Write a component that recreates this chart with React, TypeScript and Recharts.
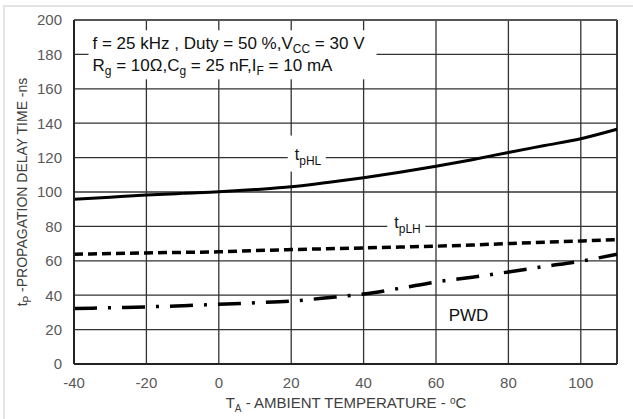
import React from 'react'
import {
  LineChart,
  Line,
  XAxis,
  YAxis,
  CartesianGrid,
  ReferenceLine,
  ReferenceDot,
} from 'recharts'

// ambient temperature, degC
const temps = [-40, -30, -20, -10, 0, 10, 20, 30, 40, 50, 60, 70, 80, 90, 100, 110]
// propagation delay, ns
const tpHL = [95.8, 97, 98.2, 99.2, 100.1, 101.4, 103, 105.5, 108.3, 111.5, 115, 118.8, 123, 127, 131, 136.5]
const tpLH = [63.8, 64.2, 64.6, 64.9, 65.2, 65.9, 66.5, 67, 67.5, 68, 68.5, 69.2, 70, 70.8, 71.5, 72.3]
const pwd = [32.2, 32.7, 33.2, 33.9, 34.7, 35.6, 36.6, 38.5, 40.7, 44, 47.7, 50.5, 53.5, 56.7, 59.8, 63.8]

const xTicks = [-40, -20, 0, 20, 40, 60, 80, 100]
const yTicks = [0, 20, 40, 60, 80, 100, 120, 140, 160, 180, 200]

const data = temps.map((t, i) => ({ t, tpHL: tpHL[i], tpLH: tpLH[i], pwd: pwd[i] }))

const FONT = 'Arial, "Liberation Sans", sans-serif'
const GRID = '#333'

type DotProps = { cx?: number; cy?: number }

function Conditions({ cx = 0, cy = 0 }: DotProps) {
  return (
    <g fontFamily={FONT} fill="#111" fontSize={17}>
      <rect x={cx} y={cy} width={288} height={49} fill="#fff" />
      <text x={cx + 4} y={cy + 19}>
        f = 25 kHz , Duty = 50 %,V
        <tspan dy={4} fontSize={12}>CC</tspan>
        <tspan dy={-4}> = 30 V</tspan>
      </text>
      <text x={cx + 4} y={cy + 41}>
        R<tspan dy={4} fontSize={12}>g</tspan>
        <tspan dy={-4}> = 10Ω,C</tspan>
        <tspan dy={4} fontSize={12}>g</tspan>
        <tspan dy={-4}> = 25 nF,I</tspan>
        <tspan dy={4} fontSize={12}>F</tspan>
        <tspan dy={-4}> = 10 mA</tspan>
      </text>
    </g>
  )
}

function SeriesTag({ cx = 0, cy = 0, sub, top }: DotProps & { sub: string; top: number }) {
  return (
    <g fontFamily={FONT} fill="#111">
      <rect x={cx - 19} y={cy - top} width={38} height={top + 14} fill="#fff" />
      <text x={cx - 12} y={cy + 2} fontSize={16}>
        t<tspan dy={5} fontSize={12}>{sub}</tspan>
      </text>
    </g>
  )
}

function PwdTag({ cx = 0, cy = 0 }: DotProps) {
  return (
    <text x={cx} y={cy} textAnchor="middle" fontFamily={FONT} fontSize={17} fill="#111">
      PWD
    </text>
  )
}

export default function App() {
  return (
    <div style={{ position: 'absolute', left: 0, top: 0, width: 633, height: 419, background: '#fff' }}>
      <div
        style={{
          position: 'absolute',
          left: 3,
          top: 5,
          width: 630,
          height: 414,
          borderTop: '2px solid #e4e4e4',
          borderLeft: '2px solid #e4e4e4',
        }}
      />
      <LineChart
        width={633}
        height={419}
        data={data}
        margin={{ top: 20, right: 16, left: 14, bottom: 15 }}
        style={{ position: 'absolute', left: 0, top: 0 }}
      >
        <CartesianGrid stroke={GRID} strokeWidth={1.3} />
        <XAxis
          dataKey="t"
          type="number"
          domain={[-40, 110]}
          ticks={xTicks}
          height={40}
          tickSize={0}
          tickMargin={13}
          axisLine={{ stroke: '#222', strokeWidth: 2 }}
          tick={{ fill: '#595959', fontSize: 15, fontFamily: FONT }}
          label={{
            content: () => (
              <text x={346} y={408} textAnchor="middle" fontFamily={FONT} fontSize={15} fill="#404040">
                T<tspan dy={4} fontSize={10}>A</tspan>
                <tspan dy={-4}> - AMBIENT TEMPERATURE  - </tspan>
                <tspan dy={-4} fontSize={10}>o</tspan>
                <tspan dy={4}>C</tspan>
              </text>
            ),
          }}
        />
        <YAxis
          type="number"
          domain={[0, 200]}
          ticks={yTicks}
          width={60}
          tickSize={0}
          tickMargin={12}
          axisLine={{ stroke: '#222', strokeWidth: 2 }}
          tick={{ fill: '#595959', fontSize: 15, fontFamily: FONT }}
          label={{
            content: () => (
              <text
                x={27}
                y={192}
                textAnchor="middle"
                transform="rotate(-90, 27, 192)"
                fontFamily={FONT}
                fontSize={14}
                fill="#404040"
              >
                t<tspan dy={4} fontSize={10}>P</tspan>
                <tspan dy={-4}> -PROPAGATION DELAY TIME -ns</tspan>
              </text>
            ),
          }}
        />
        <ReferenceLine x={110} stroke="#222" strokeWidth={1.5} />
        <ReferenceLine y={200} stroke="#555" strokeWidth={2} />
        <Line
          dataKey="tpHL"
          type="monotone"
          stroke="#000"
          strokeWidth={3}
          dot={false}
          isAnimationActive={false}
        />
        <Line
          dataKey="tpLH"
          type="monotone"
          stroke="#000"
          strokeWidth={3.5}
          strokeDasharray="9 5"
          dot={false}
          isAnimationActive={false}
        />
        <Line
          dataKey="pwd"
          type="monotone"
          stroke="#000"
          strokeWidth={3.5}
          strokeDasharray="23 11 3 11"
          dot={false}
          isAnimationActive={false}
        />
        <ReferenceDot x={-36} y={194} r={0} shape={(p: DotProps) => <Conditions {...p} />} />
        <ReferenceDot x={24.3} y={120} r={0} shape={(p: DotProps) => <SeriesTag {...p} sub="pHL" top={22} />} />
        <ReferenceDot x={51.8} y={80} r={0} shape={(p: DotProps) => <SeriesTag {...p} sub="pLH" top={12} />} />
        <ReferenceDot x={69} y={24.8} r={0} shape={(p: DotProps) => <PwdTag {...p} />} />
      </LineChart>
    </div>
  )
}
